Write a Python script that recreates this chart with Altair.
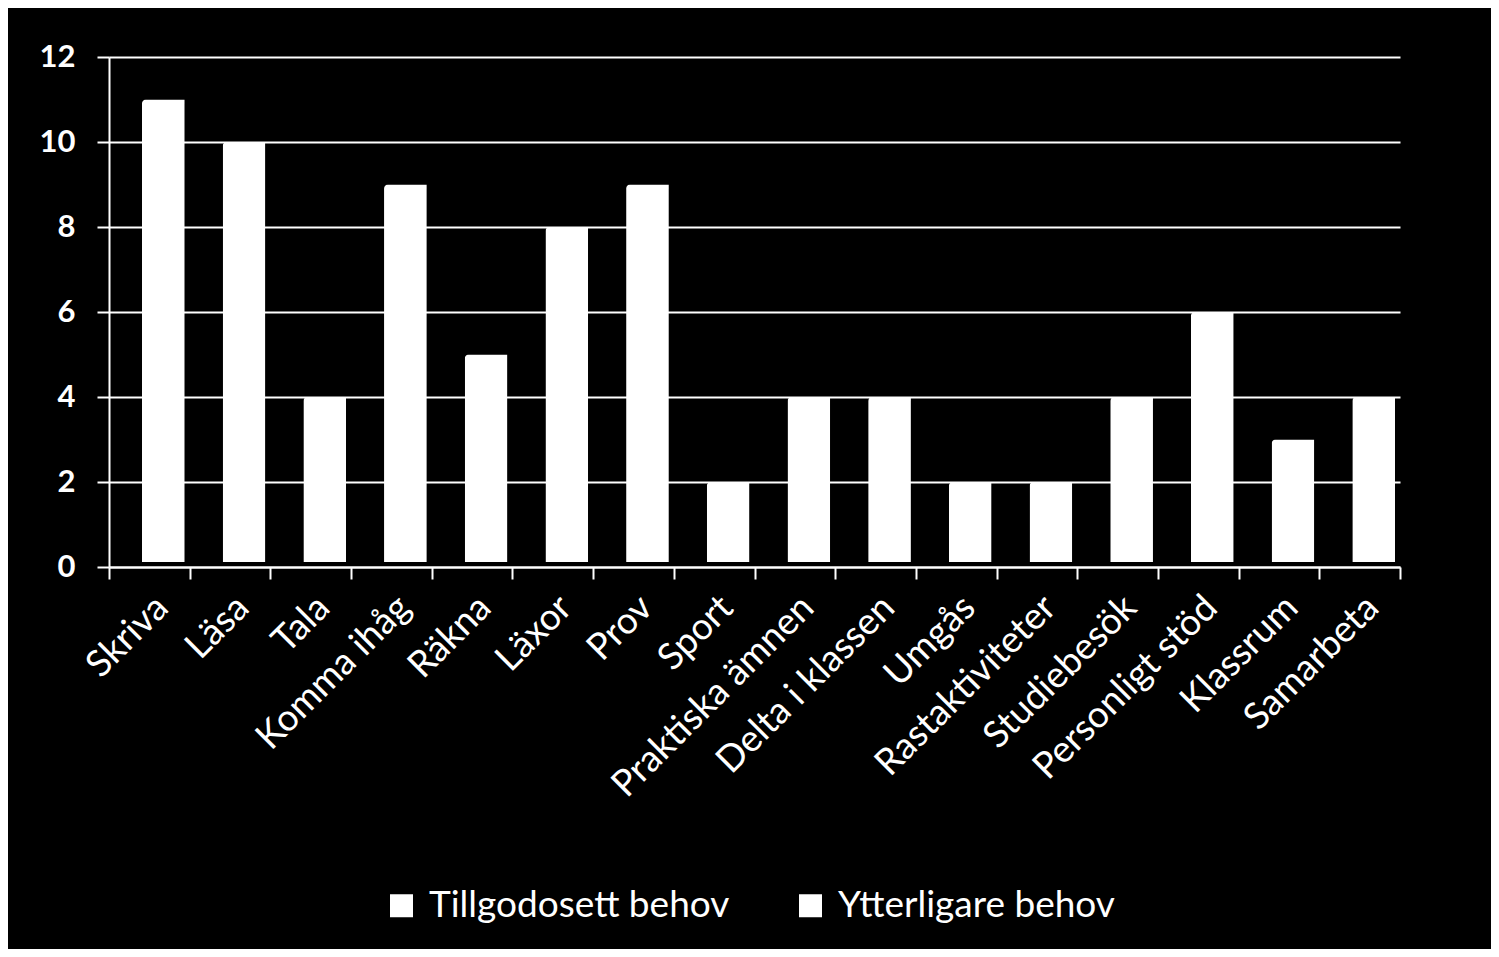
import altair as alt
import pandas as pd

categories = ["Skriva", "Läsa", "Tala", "Komma ihåg", "Räkna", "Läxor", "Prov", "Sport",
              "Praktiska ämnen", "Delta i klassen", "Umgås", "Rastaktiviteter",
              "Studiebesök", "Personligt stöd", "Klassrum", "Samarbeta"]
tillgodosett = [11, 10, 4, 9, 5, 8, 9, 2, 4, 4, 2, 2, 4, 6, 3, 4]
ytterligare = [0] * 16
series = ["Tillgodosett behov", "Ytterligare behov"]

rows = []
for i, c in enumerate(categories):
    rows.append({"cat": c, "serie": series[0], "val": tillgodosett[i], "ord": 0})
    rows.append({"cat": c, "serie": series[1], "val": ytterligare[i], "ord": 1})
df = pd.DataFrame(rows)

FONT = "Lato"

chart = alt.Chart(df).mark_bar(
    xOffset=14, yOffset=-5, width=alt.RelativeBandSize(band=0.53), cornerRadiusTopLeft=4
).encode(
    x=alt.X("cat:N", sort=categories, title=None,
            scale=alt.Scale(paddingInner=0, paddingOuter=0),
            axis=alt.Axis(labelAngle=-45, labelFontSize=37, labelFont=FONT,
                          labelColor="white", domainColor="white", domainWidth=2,
                          tickColor="white", tickWidth=2, tickSize=12, tickBand="extent",
                          labelPadding=10, labelLimit=400)),
    y=alt.Y("val:Q", stack="zero", title=None,
            scale=alt.Scale(domain=[0, 12]),
            axis=alt.Axis(values=[0, 2, 4, 6, 8, 10, 12], labelFontSize=31, labelFont=FONT,
                          labelFontWeight="bold", labelColor="white", domainColor="white",
                          domainWidth=2, tickColor="white", tickWidth=2, tickSize=12,
                          gridColor="white", gridWidth=2, labelPadding=22)),
    color=alt.Color("serie:N", scale=alt.Scale(domain=series, range=["white", "white"]),
                    legend=alt.Legend(title=None, orient="none", legendX=274, legendY=830,
                                      direction="horizontal", symbolType="square",
                                      symbolSize=529, symbolStrokeWidth=0,
                                      labelFontSize=37, labelFont=FONT, labelColor="white",
                                      labelOffset=9, columnPadding=62, labelLimit=500)),
    order=alt.Order("ord:Q"),
).properties(
    width=1291, height=510,
    background="black",
    padding={"left": 101, "top": 49, "right": 91, "bottom": 382},
    autosize=alt.AutoSizeParams(type="none"),
).configure_view(stroke=None)

chart.save("out.html", embed_options={"renderer": "svg", "actions": False})
